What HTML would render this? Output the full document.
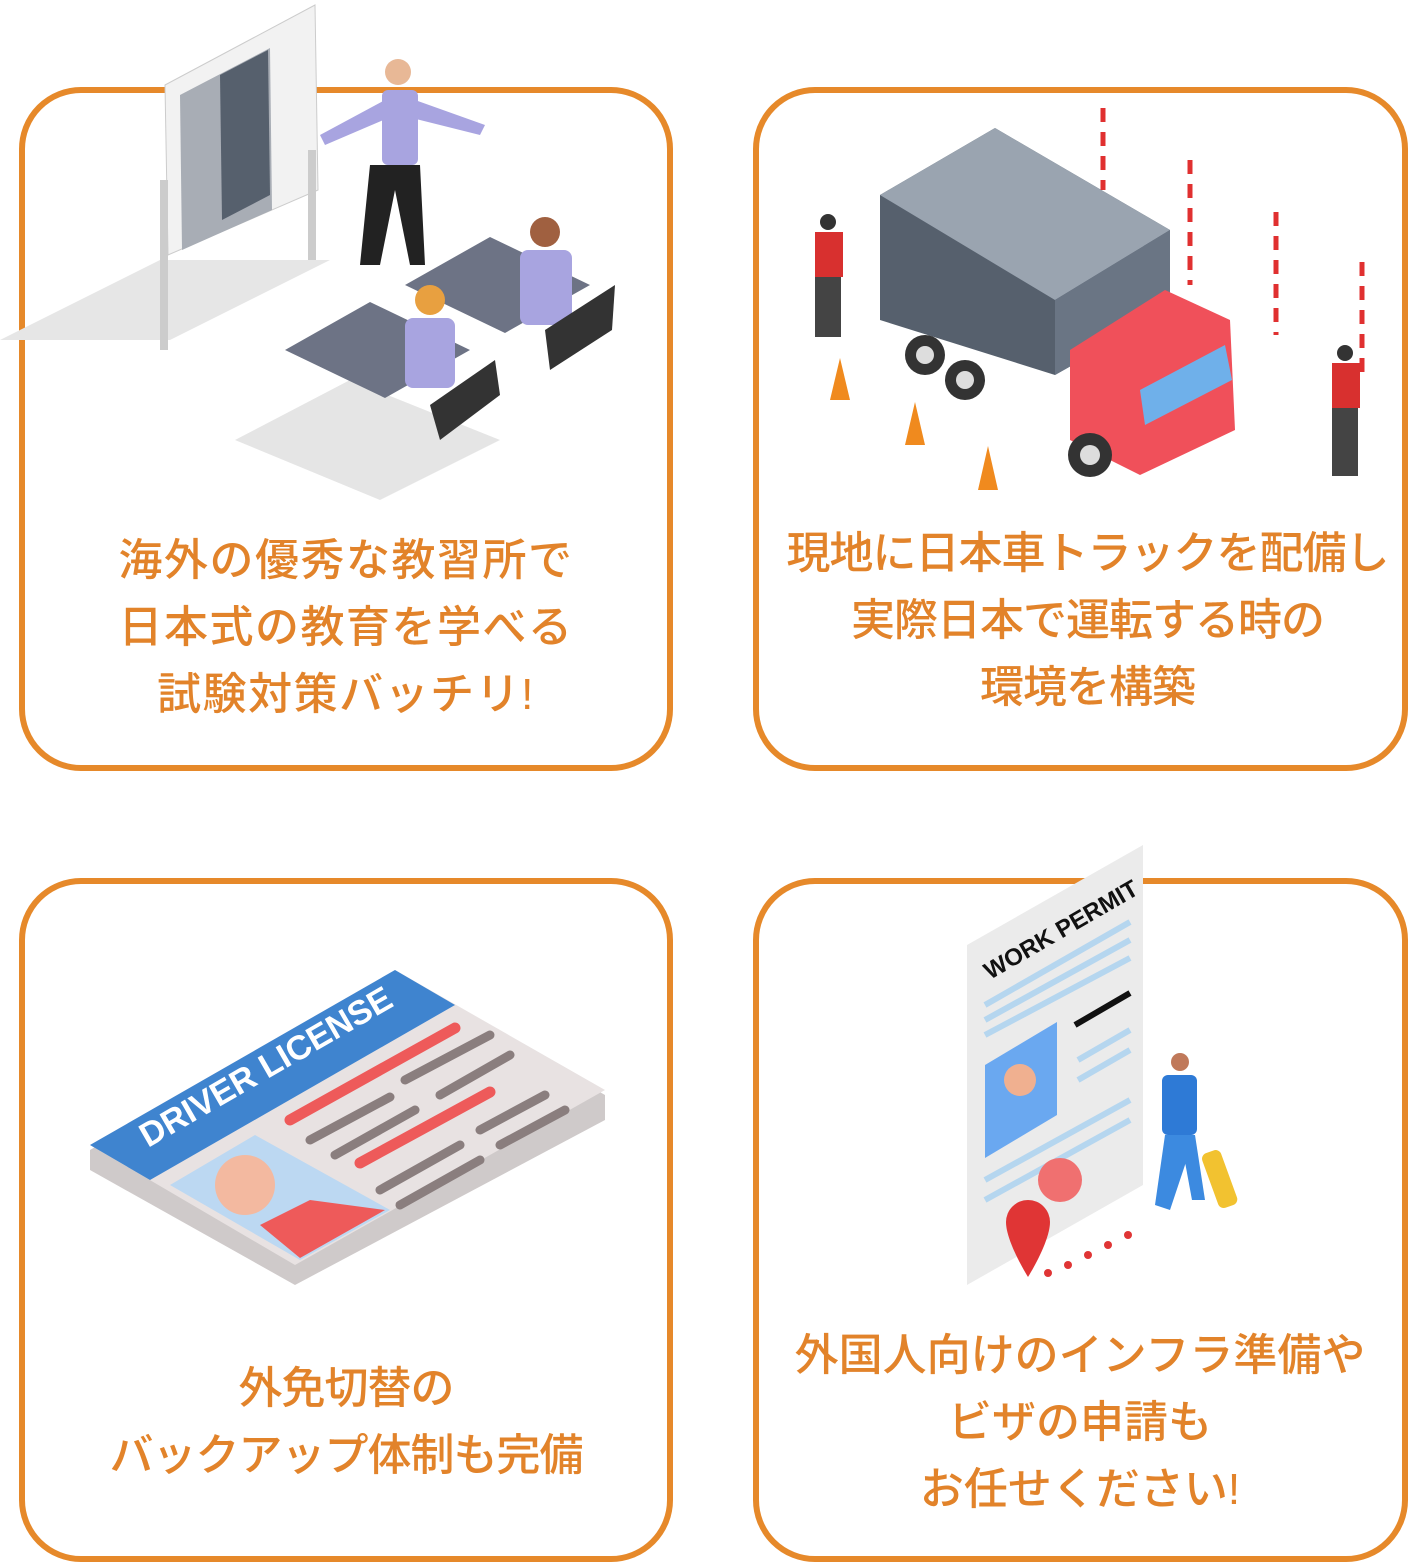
<!DOCTYPE html>
<html><head><meta charset="utf-8">
<style>
html,body{margin:0;padding:0;background:#fff;}
body{width:1410px;height:1564px;position:relative;overflow:hidden;font-family:"Liberation Sans","Noto Sans CJK JP",sans-serif;}
.card{position:absolute;border:6px solid #E6892A;border-radius:62px;box-sizing:border-box;background:#fff;}
.t{position:absolute;color:#E2832A;font-size:44px;line-height:67px;text-align:center;white-space:nowrap;font-weight:500;letter-spacing:-1px}
svg{position:absolute;left:0;top:0}
</style></head><body>
<div class="card" style="left:19px;top:87px;width:654px;height:684px"></div>
<div class="card" style="left:753px;top:87px;width:655px;height:684px"></div>
<div class="card" style="left:19px;top:878px;width:654px;height:684px"></div>
<div class="card" style="left:753px;top:878px;width:655px;height:684px"></div>

<svg width="1410" height="1564" viewBox="0 0 1410 1564">
<polygon points="0,340 160,260 330,260 170,340" fill="#e6e6e6"/>
<polygon points="165,85 315,5 318,190 168,255" fill="#f2f2f2" stroke="#ccc"/>
<polygon points="180,95 270,48 272,210 182,250" fill="#a8adb5"/>
<polygon points="220,75 268,50 270,195 222,220" fill="#56606d"/>
<rect x="160" y="180" width="8" height="170" fill="#ccc"/>
<rect x="308" y="150" width="8" height="110" fill="#ccc"/>
<circle cx="398" cy="72" r="13" fill="#e8b896"/>
<rect x="382" y="90" width="36" height="75" rx="6" fill="#a8a4e0"/>
<polygon points="415,100 485,125 480,135 412,118" fill="#a8a4e0"/>
<polygon points="385,100 320,135 325,145 388,118" fill="#a8a4e0"/>
<polygon points="370,165 420,165 425,265 410,265 395,190 380,265 360,265" fill="#222"/>
<polygon points="235,440 350,380 500,440 380,500" fill="#e5e5e5"/>
<polygon points="285,350 370,302 470,350 385,398" fill="#6d7385"/>
<polygon points="405,285 490,237 590,285 505,333" fill="#6d7385"/>
<circle cx="430" cy="300" r="15" fill="#e8a040"/>
<rect x="405" y="318" width="50" height="70" rx="8" fill="#a8a4e0"/>
<circle cx="545" cy="232" r="15" fill="#a06040"/>
<rect x="520" y="250" width="52" height="75" rx="8" fill="#a8a4e0"/>
<polygon points="430,405 495,360 500,395 440,440" fill="#333"/>
<polygon points="545,330 615,285 612,330 550,370" fill="#333"/>
<polygon points="880,195 995,128 1170,230 1170,310 1055,375 880,320" fill="#56606d"/>
<polygon points="880,195 995,128 1170,230 1055,300" fill="#9aa4b0"/>
<polygon points="1055,300 1170,230 1170,310 1055,375" fill="#6a7584"/>
<polygon points="1070,350 1165,290 1230,320 1235,430 1140,475 1070,440" fill="#f0505a"/>
<polygon points="1140,390 1225,345 1232,380 1145,425" fill="#6fb0ea"/>
<circle cx="925" cy="355" r="20" fill="#333"/><circle cx="965" cy="380" r="20" fill="#333"/><circle cx="1090" cy="455" r="22" fill="#333"/>
<circle cx="925" cy="355" r="9" fill="#ddd"/><circle cx="965" cy="380" r="9" fill="#ddd"/><circle cx="1090" cy="455" r="10" fill="#ddd"/>
<g stroke="#e03030" stroke-width="5" stroke-dasharray="14,10"><line x1="1103" y1="108" x2="1103" y2="190"/><line x1="1190" y1="160" x2="1190" y2="285"/><line x1="1276" y1="212" x2="1276" y2="335"/><line x1="1362" y1="262" x2="1362" y2="380"/></g>
<polygon points="830,400 840,358 850,400" fill="#f08a1e"/><polygon points="905,445 915,402 925,445" fill="#f08a1e"/><polygon points="978,490 988,446 998,490" fill="#f08a1e"/>
<circle cx="828" cy="222" r="8" fill="#333"/><rect x="815" y="232" width="28" height="45" fill="#d8302f"/><rect x="815" y="277" width="26" height="60" fill="#444"/>
<circle cx="1345" cy="353" r="8" fill="#333"/><rect x="1332" y="363" width="28" height="45" fill="#d8302f"/><rect x="1332" y="408" width="26" height="68" fill="#444"/>
<polygon points="90,1150 395,975 605,1095 605,1120 295,1285 90,1170" fill="#cfcaca"/>
<polygon points="90,1145 395,970 605,1090 295,1265" fill="#e8e2e2"/>
<polygon points="90,1145 395,970 455,1005 150,1180" fill="#3f84cf"/>
<text x="0" y="0" transform="translate(148,1148) rotate(-30)" fill="#fff" font-size="34" font-weight="bold" font-family="Liberation Sans,sans-serif">DRIVER LICENSE</text>
<polygon points="170,1185 255,1135 390,1210 300,1260" fill="#bcd8f2"/>
<circle cx="245" cy="1185" r="30" fill="#f3b9a0"/>
<polygon points="260,1225 310,1200 385,1210 300,1258" fill="#ee5a5a"/>
<g stroke="#ee5a5a" stroke-width="11" stroke-linecap="round"><line x1="290" y1="1120" x2="455" y2="1028"/><line x1="360" y1="1163" x2="490" y2="1092"/></g>
<g stroke="#8a7e7e" stroke-width="9" stroke-linecap="round"><line x1="310" y1="1140" x2="390" y2="1097"/><line x1="335" y1="1155" x2="415" y2="1110"/><line x1="405" y1="1080" x2="490" y2="1035"/><line x1="440" y1="1095" x2="510" y2="1055"/><line x1="380" y1="1190" x2="460" y2="1145"/><line x1="400" y1="1205" x2="480" y2="1160"/><line x1="480" y1="1130" x2="545" y2="1095"/><line x1="500" y1="1145" x2="565" y2="1110"/></g>
<polygon points="967,945 1143,845 1143,1185 967,1285" fill="#ebebeb"/>
<text transform="translate(990,980) rotate(-30)" font-size="24" font-weight="bold" fill="#111" font-family="Liberation Sans,sans-serif">WORK PERMIT</text>
<g stroke="#b5d6ef" stroke-width="6"><line x1="985" y1="1005" x2="1130" y2="922"/><line x1="985" y1="1020" x2="1130" y2="940"/><line x1="985" y1="1035" x2="1130" y2="958"/><line x1="1078" y1="1060" x2="1130" y2="1030"/><line x1="1078" y1="1080" x2="1130" y2="1050"/><line x1="985" y1="1180" x2="1130" y2="1100"/><line x1="985" y1="1200" x2="1130" y2="1120"/></g>
<line x1="1075" y1="1025" x2="1130" y2="993" stroke="#111" stroke-width="6"/>
<polygon points="985,1065 1057,1022 1057,1115 985,1158" fill="#6aa8f0"/>
<circle cx="1020" cy="1080" r="16" fill="#f0b090"/>
<circle cx="1060" cy="1180" r="22" fill="#f07070"/>
<path d="M1028 1200 a22 22 0 0 1 22 22 c0 20 -22 55 -22 55 c0 0 -22 -35 -22 -55 a22 22 0 0 1 22 -22z" fill="#e03535"/>
<g fill="#e03535"><circle cx="1048" cy="1273" r="4"/><circle cx="1068" cy="1265" r="4"/><circle cx="1088" cy="1255" r="4"/><circle cx="1108" cy="1245" r="4"/><circle cx="1128" cy="1235" r="4"/></g>
<circle cx="1180" cy="1062" r="9" fill="#c0795a"/>
<rect x="1162" y="1075" width="35" height="60" rx="6" fill="#2e7ad6"/>
<polygon points="1165,1135 1195,1135 1170,1210 1155,1205" fill="#3c8ae0"/>
<polygon points="1180,1135 1195,1135 1205,1200 1192,1200" fill="#3c8ae0"/>
<rect x="1210" y="1150" width="20" height="58" rx="6" fill="#f2c230" transform="rotate(-20 1220 1180)"/>
</svg>

<div class="t" style="left:20px;width:652px;top:527px;letter-spacing:1.5px">海外の優秀な教習所で<br>日本式の教育を学べる<br>試験対策バッチリ!</div>
<div class="t" style="left:770px;width:635px;top:520px">現地に日本車トラックを配備し<br>実際日本で運転する時の<br>環境を構築</div>
<div class="t" style="left:20px;width:652px;top:1355px">外免切替の<br>バックアップ体制も完備</div>
<div class="t" style="left:755px;width:650px;top:1322px;letter-spacing:0">外国人向けのインフラ準備や<br>ビザの申請も<br>お任せください!</div>
</body></html>
